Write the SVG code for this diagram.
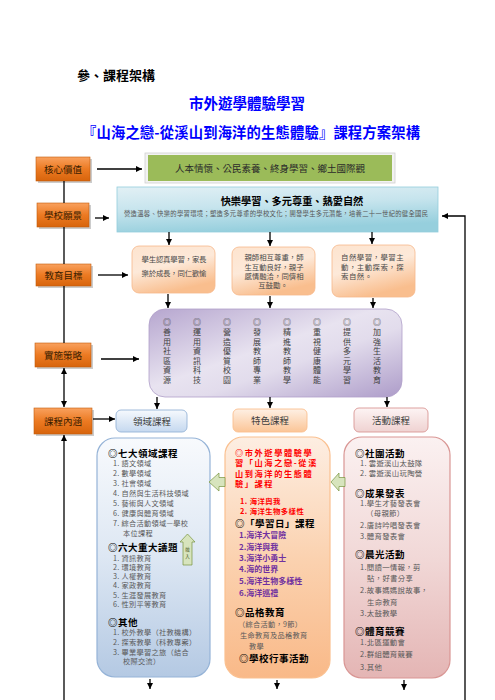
<svg xmlns="http://www.w3.org/2000/svg" width="495" height="700" viewBox="0 0 495 700">
<style>
text{font-family:"Noto Sans CJK TC","Noto Sans CJK SC",sans-serif}
.lbl{font-size:9.5px;fill:#3a1c00;text-anchor:middle}
.ln{stroke:#000;stroke-width:1.3;fill:none}
.hd{font-size:9.5px;font-weight:bold;fill:#000;letter-spacing:0.5px}
.it{font-size:7.2px;fill:#595959;letter-spacing:0.3px}
.ri{font-size:7.4px;fill:#595959;letter-spacing:0.3px}
.red{font-size:8.2px;font-weight:bold;fill:#ff0000;letter-spacing:1.6px}
.redi{font-size:7.4px;font-weight:bold;fill:#ff0000;letter-spacing:0.4px}
.pur{font-size:8px;font-weight:bold;fill:#7030a0}
.pc{font-size:8px;fill:#404040;text-anchor:middle}
.ob{font-size:7.4px;fill:#4a4a4a}
</style>
<defs>
<marker id="ah" markerWidth="6" markerHeight="6" refX="6" refY="3" orient="auto-start-reverse" markerUnits="userSpaceOnUse"><path d="M0,0 L6,3 L0,6 z" fill="#000"/></marker>
<linearGradient id="gOr" x1="0" y1="0" x2="0" y2="1"><stop offset="0" stop-color="#f9a15e"/><stop offset="0.5" stop-color="#ec7a22"/><stop offset="1" stop-color="#d7640c"/></linearGradient>
<linearGradient id="gBlue" x1="0" y1="0" x2="0.3" y2="1"><stop offset="0" stop-color="#e2f0f5"/><stop offset="0.5" stop-color="#c6e4ed"/><stop offset="1" stop-color="#96cfdd"/></linearGradient>
<linearGradient id="gPeach" x1="0" y1="0" x2="0.4" y2="1"><stop offset="0" stop-color="#fde4cf"/><stop offset="0.5" stop-color="#fde9d9"/><stop offset="1" stop-color="#f9be8e"/></linearGradient>
<linearGradient id="gPur" x1="0" y1="0" x2="1" y2="1"><stop offset="0" stop-color="#b6a6cf"/><stop offset="0.45" stop-color="#e8e3f0"/><stop offset="0.6" stop-color="#e2dcec"/><stop offset="1" stop-color="#ad9cc9"/></linearGradient>
<linearGradient id="gHB" x1="0" y1="0" x2="0" y2="1"><stop offset="0" stop-color="#f6f9fd"/><stop offset="1" stop-color="#c5d8ef"/></linearGradient>
<linearGradient id="gHO" x1="0" y1="0" x2="0" y2="1"><stop offset="0" stop-color="#fef0e4"/><stop offset="1" stop-color="#fbc597"/></linearGradient>
<linearGradient id="gHP" x1="0" y1="0" x2="0" y2="1"><stop offset="0" stop-color="#fdf4f4"/><stop offset="1" stop-color="#efd2d1"/></linearGradient>
<linearGradient id="gBB" x1="0" y1="0" x2="0" y2="1"><stop offset="0" stop-color="#f8fafd"/><stop offset="0.5" stop-color="#dde7f3"/><stop offset="1" stop-color="#b4c9e3"/></linearGradient>
<linearGradient id="gBO" x1="0" y1="0" x2="0" y2="1"><stop offset="0" stop-color="#fdeee2"/><stop offset="0.5" stop-color="#fbd2b0"/><stop offset="1" stop-color="#f9b988"/></linearGradient>
<linearGradient id="gBP" x1="0" y1="0" x2="0" y2="1"><stop offset="0" stop-color="#fbf1f1"/><stop offset="0.5" stop-color="#f1d8d7"/><stop offset="1" stop-color="#e4b5b4"/></linearGradient>
</defs>

<g id="titles">
<text x="77" y="80" font-size="13" font-weight="bold" fill="#000">參、課程架構</text>
<text x="247" y="109" font-size="14.5" font-weight="bold" fill="#0000ff" text-anchor="middle">市外遊學體驗學習</text>
<text x="82" y="138" font-size="14.3" font-weight="bold" fill="#0000ff" textLength="338" lengthAdjust="spacing">『山海之戀-從溪山到海洋的生態體驗』課程方案架構</text>
</g>

<g id="core-label"><rect x="38" y="159" width="54" height="24" fill="#999" opacity="0.5"/><rect x="36" y="157" width="54" height="24" fill="url(#gOr)" stroke="#c25c0a" stroke-width="0.6"/><text class="lbl" x="63" y="172.5">核心價值</text></g>
<g id="vision-label"><rect x="39" y="205" width="52" height="24" fill="#999" opacity="0.5"/><rect x="37" y="203" width="52" height="24" fill="url(#gOr)" stroke="#c25c0a" stroke-width="0.6"/><text class="lbl" x="63" y="218.5">學校願景</text></g>
<g id="goal-label"><rect x="38" y="266" width="55" height="22" fill="#999" opacity="0.5"/><rect x="36" y="264" width="55" height="22" fill="url(#gOr)" stroke="#c25c0a" stroke-width="0.6"/><text class="lbl" x="63.5" y="278.5">教育目標</text></g>
<g id="strategy-label"><rect x="37" y="345" width="56" height="24" fill="#999" opacity="0.5"/><rect x="35" y="343" width="56" height="24" fill="url(#gOr)" stroke="#c25c0a" stroke-width="0.6"/><text class="lbl" x="63" y="358.5">實施策略</text></g>
<g id="content-label"><rect x="36" y="410" width="58" height="26" fill="#999" opacity="0.5"/><rect x="34" y="408" width="58" height="26" fill="url(#gOr)" stroke="#c25c0a" stroke-width="0.6"/><text class="lbl" x="63" y="424.5">課程內涵</text></g>

<g id="core-box"><rect x="145" y="153" width="250" height="30" fill="#f2f2f2" stroke="#d0d0d0" stroke-width="0.8"/><rect x="148" y="155" width="244" height="26" fill="#9bbb59"/><text x="270" y="171.5" font-size="9.5" fill="#2a2a2a" text-anchor="middle">人本情懷、公民素養、終身學習、鄉土國際觀</text></g>

<g id="vision-box"><rect x="117" y="187" width="321" height="45" fill="url(#gBlue)" stroke="#93cddd" stroke-width="0.8"/><text x="292" y="205" font-size="10.2" font-weight="bold" fill="#000" text-anchor="middle">快樂學習、多元尊重、熱愛自然</text><text x="276" y="215.5" font-size="6.3" fill="#555" text-anchor="middle" textLength="304" lengthAdjust="spacing">營造溫馨、快樂的學習環境；塑造多元尊重的學校文化；開發學生多元潛能，培養二十一世紀的健全國民</text></g>

<g id="goal-1"><rect x="132" y="246" width="83" height="47" rx="7" fill="url(#gPeach)" stroke="#f6b88a" stroke-width="0.8"/><text class="ob" x="174" y="261.5" text-anchor="middle" textLength="65" lengthAdjust="spacing">學生認真學習，家長</text><text class="ob" x="174" y="275.5" text-anchor="middle" textLength="65" lengthAdjust="spacing">樂於成長，同仁歡愉</text></g>
<g id="goal-2"><rect x="232" y="247" width="83" height="48" rx="7" fill="url(#gPeach)" stroke="#f6b88a" stroke-width="0.8"/><text class="ob" x="274" y="260" text-anchor="middle" font-size="7.6">親師相互尊重，師</text><text class="ob" x="274" y="269.5" text-anchor="middle" font-size="7.6">生互動良好，親子</text><text class="ob" x="274" y="279" text-anchor="middle" font-size="7.6">感情融洽，同儕相</text><text class="ob" x="273" y="288" text-anchor="middle" font-size="7.6">互鼓勵。</text></g>
<g id="goal-3"><rect x="332" y="245" width="83" height="52" rx="7" fill="url(#gPeach)" stroke="#f6b88a" stroke-width="0.8"/><text class="ob" x="341" y="260" font-size="7.6" letter-spacing="0.5">自然學習，學習主</text><text class="ob" x="341" y="270" font-size="7.6" letter-spacing="0.5">動，主動探索，探</text><text class="ob" x="341" y="279" font-size="7.6" letter-spacing="0.5">索自然。</text></g>

<g id="strategy-box"><rect x="149" y="309" width="253" height="88" rx="16" fill="url(#gPur)" stroke="#b09fc9" stroke-width="0.8"/>
<text class="pc"><tspan x="167" y="325">◎</tspan><tspan x="167" y="335">善</tspan><tspan x="167" y="344.5">用</tspan><tspan x="167" y="354">社</tspan><tspan x="167" y="363.5">區</tspan><tspan x="167" y="373">資</tspan><tspan x="167" y="382.5">源</tspan></text>
<text class="pc"><tspan x="197" y="325">◎</tspan><tspan x="197" y="335">運</tspan><tspan x="197" y="344.5">用</tspan><tspan x="197" y="354">資</tspan><tspan x="197" y="363.5">訊</tspan><tspan x="197" y="373">科</tspan><tspan x="197" y="382.5">技</tspan></text>
<text class="pc"><tspan x="227" y="325">◎</tspan><tspan x="227" y="335">營</tspan><tspan x="227" y="344.5">造</tspan><tspan x="227" y="354">優</tspan><tspan x="227" y="363.5">質</tspan><tspan x="227" y="373">校</tspan><tspan x="227" y="382.5">園</tspan></text>
<text class="pc"><tspan x="257" y="325">◎</tspan><tspan x="257" y="335">發</tspan><tspan x="257" y="344.5">展</tspan><tspan x="257" y="354">教</tspan><tspan x="257" y="363.5">師</tspan><tspan x="257" y="373">專</tspan><tspan x="257" y="382.5">業</tspan></text>
<text class="pc"><tspan x="287" y="325">◎</tspan><tspan x="287" y="335">精</tspan><tspan x="287" y="344.5">進</tspan><tspan x="287" y="354">教</tspan><tspan x="287" y="363.5">師</tspan><tspan x="287" y="373">教</tspan><tspan x="287" y="382.5">學</tspan></text>
<text class="pc"><tspan x="317" y="325">◎</tspan><tspan x="317" y="335">重</tspan><tspan x="317" y="344.5">視</tspan><tspan x="317" y="354">健</tspan><tspan x="317" y="363.5">康</tspan><tspan x="317" y="373">體</tspan><tspan x="317" y="382.5">能</tspan></text>
<text class="pc"><tspan x="347" y="325">◎</tspan><tspan x="347" y="335">提</tspan><tspan x="347" y="344.5">供</tspan><tspan x="347" y="354">多</tspan><tspan x="347" y="363.5">元</tspan><tspan x="347" y="373">學</tspan><tspan x="347" y="382.5">習</tspan></text>
<text class="pc"><tspan x="377" y="325">◎</tspan><tspan x="377" y="335">加</tspan><tspan x="377" y="344.5">強</tspan><tspan x="377" y="354">生</tspan><tspan x="377" y="363.5">活</tspan><tspan x="377" y="373">教</tspan><tspan x="377" y="382.5">育</tspan></text>
</g>

<g id="hdr-domain"><rect x="116" y="410" width="71" height="22" rx="5" fill="url(#gHB)" stroke="#95b3d7" stroke-width="0.9"/><text x="152" y="424.5" font-size="9.5" fill="#404040" text-anchor="middle">領域課程</text></g>
<g id="hdr-feature"><rect x="233" y="409" width="74" height="23" rx="5" fill="url(#gHO)" stroke="#fac090" stroke-width="0.9"/><text x="270" y="424" font-size="9.5" fill="#404040" text-anchor="middle">特色課程</text></g>
<g id="hdr-activity"><rect x="354" y="408" width="74" height="24" rx="5" fill="url(#gHP)" stroke="#d99694" stroke-width="0.9"/><text x="391" y="424" font-size="9.5" fill="#404040" text-anchor="middle">活動課程</text></g>

<g id="domain-box"><rect x="97" y="438" width="113" height="239" rx="18" fill="url(#gBB)" stroke="#95b3d7" stroke-width="1.2"/>
<text class="hd" x="108" y="456.5">◎七大領域課程</text>
<text class="it" x="113" y="466">1. 語文領域</text>
<text class="it" x="113" y="476">2. 數學領域</text>
<text class="it" x="113" y="486">3. 社會領域</text>
<text class="it" x="113" y="496">4. 自然與生活科技領域</text>
<text class="it" x="113" y="506">5. 藝術與人文領域</text>
<text class="it" x="113" y="516">6. 健康與體育領域</text>
<text class="it" x="113" y="526">7. 綜合活動領域—學校</text>
<text class="it" x="123" y="536">本位課程</text>
<text class="hd" x="108" y="550.5">◎六大重大議題</text>
<text class="it" x="113" y="561">1. 資訊教育</text>
<text class="it" x="113" y="570">2. 環境教育</text>
<text class="it" x="113" y="579">3. 人權教育</text>
<text class="it" x="113" y="588">4. 家政教育</text>
<text class="it" x="113" y="597.5">5. 生涯發展教育</text>
<text class="it" x="113" y="607">6. 性別平等教育</text>
<text class="hd" x="108" y="625.5">◎其他</text>
<text class="it" x="113" y="635">1. 校外教學（社教機構）</text>
<text class="it" x="113" y="645">2. 探索教學（科教專案）</text>
<text class="it" x="113" y="654.5">3. 畢業學習之旅（結合</text>
<text class="it" x="123" y="664">校際交流）</text>
</g>

<g id="merge-arrow"><path d="M187.5,534 L195,542 L192,542 L192,565 L183,565 L183,542 L180,542 Z" fill="#d7e4bd" stroke="#77933c" stroke-width="0.7"/><text font-size="4.5" fill="#4f6228" text-anchor="middle"><tspan x="187.5" y="551">融</tspan><tspan x="187.5" y="558">入</tspan></text></g>

<g id="feature-box"><rect x="225" y="437" width="105" height="241" rx="18" fill="url(#gBO)" stroke="#fac090" stroke-width="1.2"/>
<text class="red" x="235" y="455.5">◎市外遊學體驗學</text>
<text class="red" x="235" y="466">習「山海之戀-從溪</text>
<text class="red" x="235" y="476.5">山到海洋的生態體</text>
<text class="red" x="235" y="487">驗」課程</text>
<text class="redi" x="240" y="504">1. 海洋與我</text>
<text class="redi" x="240" y="514">2. 海洋生物多樣性</text>
<text class="hd" x="235" y="526.5">◎「學習日」課程</text>
<text class="pur" x="239" y="538">1.海洋大冒險</text>
<text class="pur" x="239" y="549.5">2.海洋與我</text>
<text class="pur" x="239" y="561">3.海洋小勇士</text>
<text class="pur" x="239" y="571.5">4.海的世界</text>
<text class="pur" x="239" y="584">5.海洋生物多樣性</text>
<text class="pur" x="239" y="596">6.海洋巡禮</text>
<text class="hd" x="235" y="615.5">◎品格教育</text>
<text class="it" x="238" y="626.5">（綜合活動，9節）</text>
<text class="it" x="240" y="638" font-size="7.6">生命教育及品格教育</text>
<text class="it" x="249" y="649" font-size="7.6">教學</text>
<text class="hd" x="239" y="661.5">◎學校行事活動</text>
</g>

<g id="activity-box"><rect x="344" y="437" width="106" height="241" rx="18" fill="url(#gBP)" stroke="#d99694" stroke-width="1.2"/>
<text class="hd" x="355" y="456.5">◎社團活動</text>
<text class="ri" x="360" y="466">1. 雲遊溪山太鼓隊</text>
<text class="ri" x="360" y="476">2. 雲遊溪山玩陶營</text>
<text class="hd" x="355" y="496.5">◎成果發表</text>
<text class="ri" x="360" y="506">1.學生才藝發表會</text>
<text class="ri" x="366" y="516">（母親節）</text>
<text class="ri" x="360" y="528">2.唐詩吟唱發表會</text>
<text class="ri" x="360" y="539">3.體育發表會</text>
<text class="hd" x="355" y="557.5">◎晨光活動</text>
<text class="ri" x="360" y="570">1.閱讀一情報，剪</text>
<text class="ri" x="367" y="581">貼，好書分享</text>
<text class="ri" x="360" y="593">2.故事媽媽說故事，</text>
<text class="ri" x="367" y="605">生命教育</text>
<text class="ri" x="360" y="616">3.太鼓教學</text>
<text class="hd" x="355" y="634.5">◎體育競賽</text>
<text class="ri" x="360" y="645">1.北區運動會</text>
<text class="ri" x="360" y="657">2.群組體育競賽</text>
<text class="ri" x="360" y="670">3.其他</text>
</g>

<g id="connectors">
<line class="ln" x1="64" y1="181" x2="64" y2="203"/>
<line class="ln" x1="64" y1="227" x2="64" y2="264"/>
<line class="ln" x1="64" y1="286" x2="64" y2="343"/>
<line class="ln" x1="64" y1="368" x2="64" y2="407" marker-start="url(#ah)" marker-end="url(#ah)"/>
<line class="ln" x1="64" y1="435" x2="64" y2="700" marker-start="url(#ah)"/>
<line class="ln" x1="97" y1="169" x2="142" y2="169" marker-end="url(#ah)"/>
<line class="ln" x1="95" y1="218" x2="109" y2="218" marker-end="url(#ah)"/>
<line class="ln" x1="98" y1="275" x2="128" y2="275" marker-end="url(#ah)"/>
<line class="ln" x1="101" y1="359" x2="139" y2="359" marker-end="url(#ah)"/>
<line class="ln" x1="93" y1="419" x2="115" y2="419" marker-end="url(#ah)"/>
<polyline class="ln" points="465,700 465,216 442,216" marker-end="url(#ah)"/>
<line class="ln" x1="169" y1="232" x2="169" y2="245" marker-end="url(#ah)"/>
<line class="ln" x1="270" y1="232" x2="270" y2="246" marker-end="url(#ah)"/>
<line class="ln" x1="372" y1="232" x2="372" y2="244" marker-end="url(#ah)"/>
<line class="ln" x1="168" y1="294" x2="168" y2="308" marker-end="url(#ah)"/>
<line class="ln" x1="270" y1="296" x2="270" y2="308" marker-end="url(#ah)"/>
<line class="ln" x1="373" y1="298" x2="373" y2="308" marker-end="url(#ah)"/>
<line class="ln" x1="157" y1="397" x2="157" y2="409" marker-end="url(#ah)"/>
<line class="ln" x1="270" y1="397" x2="270" y2="408" marker-end="url(#ah)"/>
<line class="ln" x1="387" y1="397" x2="387" y2="407" marker-end="url(#ah)"/>
<line class="ln" x1="150" y1="679" x2="150" y2="689" marker-end="url(#ah)"/>
<line class="ln" x1="277" y1="680" x2="277" y2="689" marker-end="url(#ah)"/>
<line class="ln" x1="404" y1="680" x2="404" y2="690" marker-end="url(#ah)"/>
<path d="M209,482 L219,473 L219,477.5 L225,477.5 L225,486.5 L219,486.5 L219,491 Z" fill="#d7e4bd" stroke="#77933c" stroke-width="0.7"/>
<path d="M331,482 L339,473 L339,477.5 L345,477.5 L345,486.5 L339,486.5 L339,491 Z" fill="#d7e4bd" stroke="#77933c" stroke-width="0.7"/>
</g>
</svg>
